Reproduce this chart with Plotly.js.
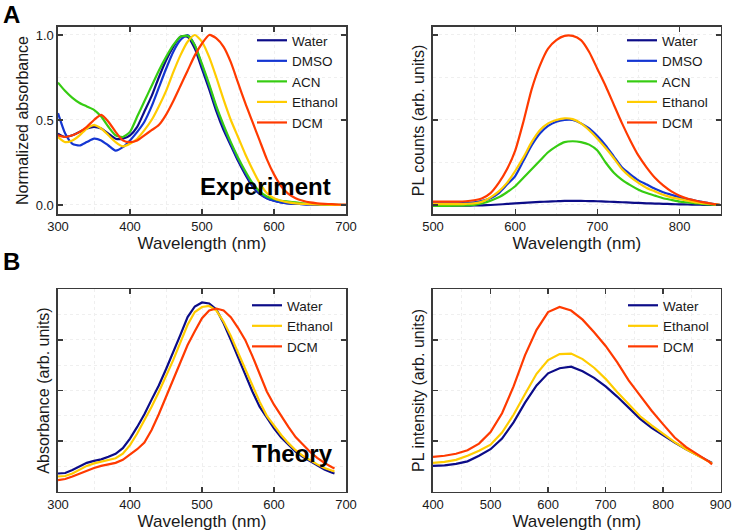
<!DOCTYPE html>
<html><head><meta charset="utf-8">
<script src="https://cdn.plot.ly/plotly-3.0.1.min.js"></script>
<style>html,body{margin:0;padding:0;background:#fff;}#chart{width:734px;height:531px;}</style>
</head><body><div id="chart"></div>
<script>
// ---------- Panel A (left): normalized absorbance, experiment ----------
const absWl = [300,310,320,330,340,350,360,370,380,390,400,410,420,430,440,450,460,470,480,490,500,510,520,530,540,550,560,570,580,590,600,610,620,630,640,650,660,670,680,690,700];
const absWater = [0.42,0.40,0.41,0.43,0.45,0.46,0.45,0.42,0.39,0.39,0.41,0.46,0.55,0.64,0.75,0.85,0.93,0.99,0.99,0.92,0.80,0.68,0.55,0.44,0.35,0.26,0.18,0.11,0.065,0.04,0.025,0.015,0.01,0.007,0.005,0.003,0.002,0.001,0,0,0];
const absDMSO = [0.54,0.42,0.36,0.35,0.37,0.39,0.38,0.35,0.32,0.34,0.38,0.43,0.49,0.58,0.69,0.80,0.90,0.97,1.00,0.94,0.82,0.70,0.57,0.46,0.36,0.27,0.19,0.12,0.07,0.04,0.025,0.015,0.01,0.007,0.005,0.003,0.002,0.001,0,0,0];
const absACN = [0.72,0.67,0.63,0.60,0.58,0.56,0.52,0.46,0.41,0.40,0.43,0.52,0.61,0.70,0.79,0.87,0.94,0.99,0.995,0.94,0.83,0.71,0.58,0.47,0.37,0.28,0.20,0.13,0.08,0.05,0.035,0.025,0.02,0.015,0.01,0.007,0.005,0.003,0.002,0.001,0];
const absEthanol = [0.40,0.37,0.38,0.41,0.45,0.47,0.45,0.41,0.37,0.345,0.36,0.39,0.44,0.50,0.58,0.67,0.78,0.88,0.96,1.00,0.96,0.87,0.75,0.62,0.50,0.40,0.30,0.21,0.13,0.07,0.04,0.025,0.015,0.01,0.007,0.005,0.003,0.002,0.001,0,0];
const absDCM = [0.41,0.40,0.41,0.43,0.46,0.50,0.53,0.49,0.43,0.38,0.37,0.38,0.41,0.44,0.47,0.53,0.61,0.70,0.79,0.88,0.95,1.00,0.98,0.93,0.84,0.72,0.60,0.49,0.38,0.27,0.18,0.11,0.065,0.04,0.025,0.015,0.01,0.007,0.005,0.003,0.002];

// ---------- Panel A (right): PL counts, experiment ----------
const plWl = [500,510,520,530,540,550,560,570,580,590,600,610,620,630,640,650,660,670,680,690,700,710,720,730,740,750,760,770,780,790,800,810,820,830,840,850];
const plWater = [-0.005,-0.005,-0.005,-0.004,-0.004,-0.003,-0.002,0,0.003,0.006,0.009,0.012,0.015,0.018,0.02,0.022,0.024,0.024,0.024,0.023,0.022,0.02,0.018,0.016,0.014,0.012,0.01,0.008,0.007,0.005,0.004,0.003,0.002,0.001,0,0];
const plDMSO = [0.01,0.01,0.01,0.01,0.012,0.015,0.025,0.04,0.07,0.12,0.17,0.26,0.35,0.42,0.465,0.49,0.50,0.50,0.48,0.45,0.405,0.35,0.285,0.22,0.18,0.145,0.12,0.095,0.075,0.06,0.045,0.035,0.025,0.015,0.007,0];
const plACN = [-0.005,-0.005,-0.005,-0.004,-0.003,0,0.01,0.025,0.045,0.075,0.11,0.16,0.21,0.26,0.31,0.345,0.37,0.375,0.37,0.355,0.32,0.25,0.19,0.148,0.117,0.09,0.07,0.055,0.04,0.03,0.02,0.015,0.01,0.005,0.002,0];
const plEthanol = [0.005,0.005,0.005,0.005,0.007,0.01,0.02,0.045,0.08,0.13,0.20,0.28,0.37,0.44,0.48,0.50,0.51,0.505,0.48,0.44,0.39,0.335,0.275,0.21,0.165,0.13,0.10,0.08,0.06,0.045,0.035,0.025,0.015,0.01,0.005,0];
const plDCM = [0.02,0.02,0.02,0.02,0.022,0.028,0.04,0.07,0.13,0.21,0.32,0.49,0.68,0.82,0.92,0.97,0.995,0.995,0.97,0.90,0.80,0.70,0.59,0.48,0.38,0.29,0.22,0.16,0.115,0.08,0.055,0.037,0.025,0.015,0.007,0];

// ---------- Panel B (left): absorbance, theory ----------
const thAbsWl = [300,310,320,330,340,350,360,370,380,390,400,410,420,430,440,450,460,470,480,490,500,510,520,530,540,550,560,570,580,590,600,610,620,630,640,650,660,670,680,684];
const thAbsWater = [0.36,0.37,0.43,0.50,0.57,0.61,0.64,0.69,0.75,0.86,1.05,1.28,1.53,1.82,2.10,2.42,2.75,3.10,3.45,3.66,3.74,3.72,3.60,3.33,3.00,2.66,2.32,1.98,1.68,1.46,1.25,1.07,0.92,0.79,0.69,0.61,0.52,0.44,0.38,0.36];
const thAbsEthanol = [0.30,0.31,0.36,0.44,0.51,0.56,0.59,0.62,0.66,0.75,0.92,1.15,1.41,1.68,1.97,2.28,2.60,2.95,3.30,3.55,3.65,3.67,3.58,3.36,3.08,2.75,2.42,2.08,1.78,1.50,1.30,1.12,0.96,0.82,0.71,0.62,0.54,0.47,0.42,0.40];
const thAbsDCM = [0.23,0.25,0.30,0.36,0.42,0.47,0.51,0.54,0.57,0.63,0.73,0.84,0.97,1.22,1.53,1.87,2.22,2.57,2.90,3.17,3.43,3.58,3.62,3.58,3.45,3.24,3.00,2.68,2.32,1.98,1.72,1.49,1.28,1.08,0.93,0.79,0.67,0.57,0.49,0.46];

// ---------- Panel B (right): PL intensity, theory ----------
const thPlWl = [400,420,440,460,480,500,520,540,560,580,600,620,640,660,680,700,720,740,760,780,800,820,840,860,880,885];
const thPlWater = [0.51,0.52,0.55,0.60,0.71,0.84,1.05,1.37,1.76,2.10,2.34,2.44,2.47,2.38,2.25,2.08,1.88,1.66,1.44,1.26,1.11,0.97,0.84,0.72,0.60,0.57];
const thPlEthanol = [0.57,0.59,0.63,0.71,0.81,0.93,1.17,1.52,1.93,2.33,2.60,2.72,2.73,2.62,2.45,2.23,1.97,1.72,1.49,1.31,1.14,0.98,0.84,0.72,0.60,0.56];
const thPlDCM = [0.69,0.71,0.75,0.82,0.95,1.18,1.55,2.08,2.70,3.20,3.55,3.65,3.58,3.40,3.15,2.88,2.56,2.20,1.90,1.60,1.33,1.07,0.88,0.74,0.59,0.54];

const COL = {Water:'#0c0c88', DMSO:'#1436d2', ACN:'#36cc12', Ethanol:'#ffcc00', DCM:'#ff3a00'};
const FONT = 'Liberation Sans, Arial, Helvetica, sans-serif';

function tr(x, y, name, xa, ya, lg, shape) {
  return {x: x, y: y, name: name, type: 'scatter', mode: 'lines',
    xaxis: xa, yaxis: ya, legend: lg,
    line: {color: COL[name], width: 2.2, shape: shape || 'linear', smoothing: 0.6}};
}

const data = [
  tr(absWl, absWater, 'Water', 'x', 'y', 'legend', 'spline'),
  tr(absWl, absDMSO, 'DMSO', 'x', 'y', 'legend', 'spline'),
  tr(absWl, absACN, 'ACN', 'x', 'y', 'legend', 'spline'),
  tr(absWl, absEthanol, 'Ethanol', 'x', 'y', 'legend', 'spline'),
  tr(absWl, absDCM, 'DCM', 'x', 'y', 'legend', 'spline'),
  tr(plWl, plWater, 'Water', 'x2', 'y2', 'legend2', 'spline'),
  tr(plWl, plDMSO, 'DMSO', 'x2', 'y2', 'legend2', 'spline'),
  tr(plWl, plACN, 'ACN', 'x2', 'y2', 'legend2', 'spline'),
  tr(plWl, plEthanol, 'Ethanol', 'x2', 'y2', 'legend2', 'spline'),
  tr(plWl, plDCM, 'DCM', 'x2', 'y2', 'legend2', 'spline'),
  tr(thAbsWl, thAbsWater, 'Water', 'x3', 'y3', 'legend3'),
  tr(thAbsWl, thAbsEthanol, 'Ethanol', 'x3', 'y3', 'legend3'),
  tr(thAbsWl, thAbsDCM, 'DCM', 'x3', 'y3', 'legend3'),
  tr(thPlWl, thPlWater, 'Water', 'x4', 'y4', 'legend4'),
  tr(thPlWl, thPlEthanol, 'Ethanol', 'x4', 'y4', 'legend4'),
  tr(thPlWl, thPlDCM, 'DCM', 'x4', 'y4', 'legend4')
];

const W = 734, H = 531;
const px = v => v / W, py = v => 1 - v / H;
const GRID = '#efefef';

function xax(dom, anchor, range, minorDt, title) {
  return {domain: dom, anchor: anchor, range: range, dtick: 100, tick0: 0,
    showline: true, linecolor: '#3a3a3a', linewidth: 1.6, mirror: 'ticks',
    ticks: 'inside', ticklen: 5, tickwidth: 1.4, tickcolor: '#3a3a3a',
    showgrid: true, gridcolor: GRID, griddash: 'dot', gridwidth: 1, zeroline: false,
    minor: {dtick: minorDt, showgrid: true, gridcolor: GRID, griddash: 'dot', ticks: ''},
    tickfont: {family: FONT, size: 13, color: '#1a1a1a'},
    title: {text: title, font: {family: FONT, size: 17, color: '#1a1a1a'}, standoff: 2},
    automargin: false, fixedrange: true};
}
function yax(dom, anchor, range, dt, minorDt, labels, title, fmt) {
  return {domain: dom, anchor: anchor, range: range, dtick: dt, tick0: 0,
    showline: true, linecolor: '#3a3a3a', linewidth: 1.6, mirror: 'ticks',
    ticks: 'inside', ticklen: 5, tickwidth: 1.4, tickcolor: '#3a3a3a',
    showgrid: true, gridcolor: GRID, griddash: 'dot', gridwidth: 1, zeroline: false,
    minor: {dtick: minorDt, showgrid: true, gridcolor: GRID, griddash: 'dot', ticks: ''},
    showticklabels: labels, tickformat: fmt || '',
    tickfont: {family: FONT, size: 13, color: '#1a1a1a'},
    title: {text: title, font: {family: FONT, size: 16, color: '#1a1a1a'}, standoff: 3},
    automargin: false, fixedrange: true};
}

const domL = [px(58), px(346)], domR = [px(433), px(720.7)];
const domT = [py(214), py(27)], domB = [py(491.7), py(289.3)];

function leg(x, ytop) {
  return {x: px(x), y: py(ytop), xanchor: 'left', yanchor: 'top',
    bgcolor: 'rgba(0,0,0,0)', borderwidth: 0, itemwidth: 30, tracegroupgap: 0,
    font: {family: FONT, size: 13.5, color: '#1a1a1a'}};
}

const layout = {
  width: W, height: H, margin: {l: 0, r: 0, t: 0, b: 0},
  paper_bgcolor: '#fff', plot_bgcolor: '#fff', showlegend: true,
  font: {family: FONT, color: '#1a1a1a'},
  xaxis: xax(domL, 'y', [300, 700], 50, 'Wavelength (nm)'),
  yaxis: yax(domT, 'x', [-0.053, 1.047], 0.5, 0.25, true, 'Normalized absorbance', '.1f'),
  xaxis2: xax(domR, 'y2', [500, 850], 50, 'Wavelength (nm)'),
  yaxis2: yax(domT, 'x2', [-0.053, 1.047], 0.5, 0.25, false, 'PL counts (arb. units)'),
  xaxis3: xax(domL, 'y3', [300, 700], 50, 'Wavelength (nm)'),
  yaxis3: yax(domB, 'x3', [0, 4], 1, 0.5, false, 'Absorbance (arb. units)'),
  xaxis4: xax(domR, 'y4', [400, 900], 50, 'Wavelength (nm)'),
  yaxis4: yax(domB, 'x4', [0, 4], 1, 0.5, false, 'PL intensity (arb. units)'),
  legend: leg(252, 25),
  legend2: leg(622, 25),
  legend3: leg(247, 290),
  legend4: leg(623, 290),
  annotations: [
    {text: '<b>A</b>', x: px(1), y: py(15), xref: 'paper', yref: 'paper', xanchor: 'left', yanchor: 'middle', showarrow: false, font: {family: FONT, size: 24, color: '#000'}},
    {text: '<b>B</b>', x: px(1), y: py(261), xref: 'paper', yref: 'paper', xanchor: 'left', yanchor: 'middle', showarrow: false, font: {family: FONT, size: 24, color: '#000'}},
    {text: '<b>Experiment</b>', x: px(265), y: py(186), xref: 'paper', yref: 'paper', xanchor: 'center', yanchor: 'middle', showarrow: false, font: {family: FONT, size: 24, color: '#000'}},
    {text: '<b>Theory</b>', x: px(292), y: py(453), xref: 'paper', yref: 'paper', xanchor: 'center', yanchor: 'middle', showarrow: false, font: {family: FONT, size: 24, color: '#000'}}
  ]
};

Plotly.newPlot('chart', data, layout, {staticPlot: true, displayModeBar: false});
</script>
</body></html>
